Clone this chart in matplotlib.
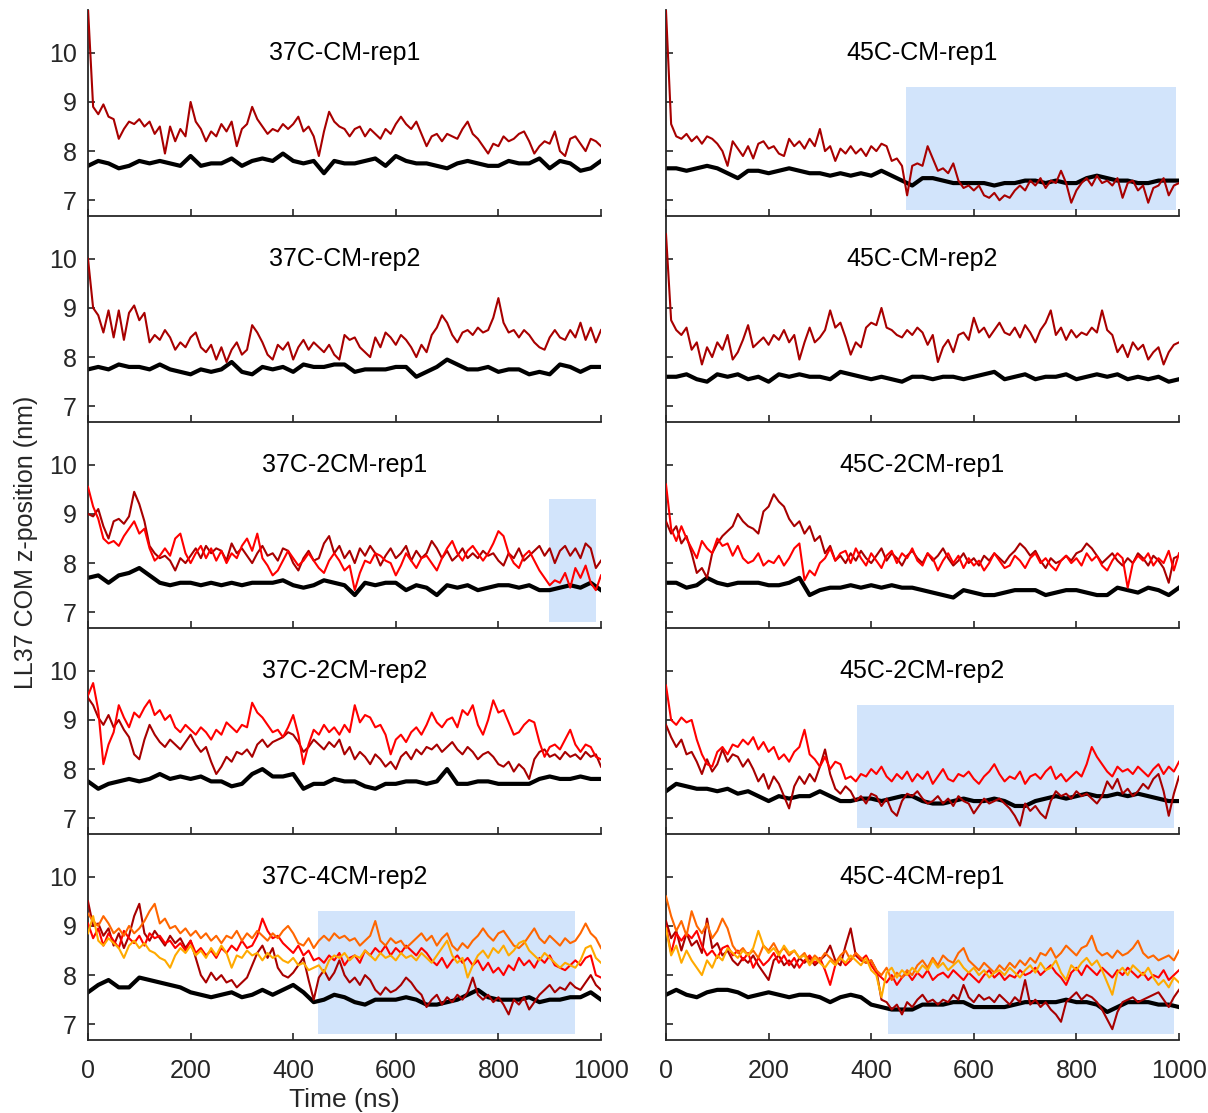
import numpy as np
import matplotlib
matplotlib.use("Agg")
import matplotlib.pyplot as plt

plt.rcParams['font.family'] = ['Liberation Sans', 'DejaVu Sans']

# ---- data (nm); colored traces every 10 ns, black every 20 ns ----

c37_cm1_dark = [10.9, 8.9, 8.75, 8.95, 8.7, 8.65, 8.25, 8.45, 8.6, 8.55,
                8.65, 8.5, 8.6, 8.35, 8.5, 7.95, 8.5, 8.2, 8.45, 8.3,
                9.0, 8.6, 8.45, 8.2, 8.4, 8.3, 8.55, 8.4, 8.6, 8.1,
                8.45, 8.55, 8.9, 8.65, 8.5, 8.35, 8.45, 8.4, 8.55, 8.45,
                8.55, 8.7, 8.4, 8.5, 8.3, 7.9, 8.4, 8.8, 8.6, 8.5,
                8.45, 8.3, 8.45, 8.5, 8.3, 8.45, 8.35, 8.25, 8.45, 8.35,
                8.55, 8.7, 8.55, 8.45, 8.6, 8.35, 8.1, 8.3, 8.35, 8.2,
                8.35, 8.3, 8.25, 8.45, 8.6, 8.35, 8.25, 8.1, 7.95, 8.15,
                8.1, 8.3, 8.2, 8.25, 8.35, 8.4, 8.2, 7.95, 8.1, 8.2,
                8.15, 8.4, 8.0, 7.9, 8.25, 8.3, 8.15, 8.0, 8.25, 8.2,
                8.1]
c37_cm1_black = [7.7, 7.8, 7.75, 7.65, 7.7, 7.8, 7.75, 7.8, 7.75, 7.7,
                 7.9, 7.7, 7.75, 7.75, 7.85, 7.7, 7.8, 7.85, 7.8, 7.95,
                 7.8, 7.75, 7.8, 7.55, 7.8, 7.75, 7.75, 7.8, 7.85, 7.7,
                 7.9, 7.8, 7.75, 7.75, 7.7, 7.65, 7.75, 7.8, 7.75, 7.7,
                 7.7, 7.8, 7.75, 7.75, 7.85, 7.65, 7.8, 7.75, 7.6, 7.65,
                 7.8]

c37_cm2_dark = [10.0, 9.0, 8.85, 8.5, 8.95, 8.4, 8.95, 8.35, 8.9, 9.05,
                8.75, 8.9, 8.3, 8.45, 8.35, 8.55, 8.4, 8.15, 8.3, 8.2,
                8.4, 8.5, 8.2, 8.1, 8.25, 7.95, 8.2, 7.9, 8.15, 8.3,
                8.05, 8.15, 8.65, 8.5, 8.3, 8.05, 7.95, 8.25, 8.15, 8.3,
                7.95, 8.2, 8.35, 8.15, 8.3, 8.2, 8.1, 8.25, 8.05, 7.95,
                8.45, 8.35, 8.4, 8.2, 8.1, 8.0, 8.4, 8.2, 8.5, 8.4,
                8.25, 8.45, 8.35, 8.2, 8.0, 8.25, 8.1, 8.45, 8.6, 8.85,
                8.7, 8.45, 8.3, 8.5, 8.55, 8.45, 8.6, 8.5, 8.55, 8.8,
                9.2, 8.7, 8.5, 8.55, 8.4, 8.55, 8.45, 8.3, 8.2, 8.15,
                8.4, 8.55, 8.4, 8.35, 8.55, 8.4, 8.7, 8.35, 8.6, 8.3,
                8.55]
c37_cm2_black = [7.75, 7.8, 7.75, 7.85, 7.8, 7.8, 7.75, 7.85, 7.75, 7.7,
                 7.65, 7.75, 7.7, 7.75, 7.9, 7.7, 7.65, 7.8, 7.75, 7.8,
                 7.7, 7.85, 7.8, 7.8, 7.85, 7.85, 7.7, 7.75, 7.75, 7.75,
                 7.8, 7.8, 7.6, 7.7, 7.8, 7.95, 7.85, 7.75, 7.75, 7.8,
                 7.7, 7.75, 7.75, 7.65, 7.7, 7.65, 7.85, 7.8, 7.7, 7.8,
                 7.8]

c37_2cm1_dark = [9.0, 8.95, 9.1, 8.75, 8.5, 8.85, 8.9, 8.8, 8.95, 9.45,
                 9.2, 8.85, 8.35, 8.2, 8.1, 8.15, 8.05, 7.85, 8.1, 8.0,
                 8.15, 8.3, 8.1, 8.35, 8.2, 8.3, 8.25, 8.05, 8.4, 8.2,
                 8.3, 8.15, 8.0, 8.2, 8.35, 8.15, 8.2, 8.05, 8.3, 8.25,
                 8.0, 7.85, 8.1, 8.25, 8.05, 8.1, 8.4, 8.55, 8.2, 8.35,
                 8.1, 8.25, 8.0, 8.3, 8.15, 8.35, 8.2, 7.95, 8.15, 8.3,
                 8.1, 8.2, 8.35, 8.05, 8.25, 8.1, 8.2, 8.45, 8.3, 8.1,
                 8.25, 8.05, 8.15, 8.3, 8.1, 8.2, 8.1, 8.25, 8.15, 8.2,
                 8.05, 7.95, 8.2, 8.1, 8.3, 8.05, 8.15, 8.25, 8.35, 8.15,
                 8.3, 8.0, 8.25, 8.35, 8.15, 8.3, 8.1, 8.4, 8.3, 7.9,
                 8.05]
c37_2cm1_red = [9.55, 9.15, 8.9, 8.5, 8.4, 8.45, 8.35, 8.55, 8.7, 8.85,
                8.6, 8.7, 8.3, 8.05, 8.15, 8.3, 8.15, 8.5, 8.6, 8.2,
                8.0, 8.2, 8.35, 8.1, 8.3, 8.05, 8.25, 8.0, 8.2, 8.1,
                8.35, 8.5, 8.25, 8.6, 8.1, 7.95, 7.75, 7.85, 8.05, 8.25,
                8.1, 7.95, 8.05, 8.2, 8.05, 7.9, 7.8, 8.05, 8.2, 8.05,
                7.85, 7.95, 7.45, 7.8, 8.05, 8.0, 8.2, 8.15, 8.05, 8.0,
                7.75, 7.95, 8.2, 8.05, 7.9, 8.1, 8.15, 8.0, 7.85, 8.1,
                8.3, 8.45, 8.2, 8.05, 8.25, 8.35, 8.2, 8.05, 8.2, 8.4,
                8.65, 8.55, 8.2, 8.0, 7.9, 8.15, 8.25, 8.05, 7.85, 7.7,
                7.55, 7.65, 7.6, 7.8, 7.5, 7.9, 7.7, 7.95, 7.6, 7.45,
                7.75]
c37_2cm1_black = [7.7, 7.75, 7.6, 7.75, 7.8, 7.9, 7.75, 7.6, 7.55, 7.6,
                  7.6, 7.55, 7.6, 7.55, 7.6, 7.55, 7.6, 7.6, 7.6, 7.65,
                  7.55, 7.5, 7.55, 7.65, 7.6, 7.55, 7.35, 7.6, 7.55, 7.6,
                  7.6, 7.45, 7.55, 7.5, 7.35, 7.55, 7.5, 7.55, 7.45, 7.5,
                  7.55, 7.55, 7.5, 7.55, 7.45, 7.45, 7.5, 7.55, 7.5, 7.6,
                  7.45]

c37_2cm2_dark = [9.45, 9.3, 9.05, 8.9, 9.1, 8.85, 9.0, 8.8, 8.65, 8.3,
                 8.2, 8.6, 8.9, 8.7, 8.55, 8.45, 8.6, 8.5, 8.4, 8.55,
                 8.7, 8.5, 8.35, 8.45, 8.15, 7.9, 8.05, 8.25, 8.15, 8.35,
                 8.3, 8.4, 8.25, 8.5, 8.6, 8.45, 8.55, 8.6, 8.65, 8.75,
                 8.7, 8.55, 8.35, 8.45, 8.6, 8.5, 8.4, 8.55, 8.45, 8.6,
                 8.3, 8.45, 8.2, 8.35, 8.25, 8.1, 8.3, 8.2, 8.05, 8.15,
                 8.0, 8.25, 8.35, 8.2, 8.4, 8.3, 8.45, 8.4, 8.5, 8.35,
                 8.45, 8.55, 8.4, 8.3, 8.45, 8.35, 8.2, 8.3, 8.35, 8.25,
                 8.1, 8.05, 8.15, 7.95, 8.1, 8.0, 7.8, 8.2, 8.35, 8.4,
                 8.25, 8.3, 8.2, 8.35, 8.25, 8.3, 8.2, 8.35, 8.25, 8.3,
                 8.05]
c37_2cm2_red = [9.5, 9.75, 9.2, 8.1, 8.5, 8.75, 9.3, 9.05, 8.85, 9.15,
                9.05, 9.25, 9.4, 9.1, 9.2, 9.0, 9.1, 8.85, 8.75, 8.9,
                8.8, 8.7, 8.85, 8.75, 8.6, 8.8, 8.7, 8.95, 8.85, 8.75,
                8.9, 8.85, 9.35, 9.15, 9.05, 8.9, 8.75, 8.8, 8.65, 8.85,
                9.1, 8.7, 8.1, 8.5, 8.8, 8.7, 8.9, 8.75, 8.85, 8.7,
                8.9, 8.75, 9.3, 8.95, 9.1, 9.05, 8.85, 8.9, 8.7, 8.3,
                8.6, 8.7, 8.55, 8.75, 8.85, 8.7, 8.9, 9.15, 8.95, 8.85,
                9.0, 9.05, 8.85, 9.2, 9.1, 9.3, 8.9, 8.7, 9.0, 9.4,
                9.15, 9.2, 8.95, 8.7, 8.75, 8.9, 9.0, 8.95, 8.55, 8.25,
                8.45, 8.5, 8.4, 8.6, 8.8, 8.5, 8.35, 8.5, 8.45, 8.25,
                8.2]
c37_2cm2_black = [7.75, 7.6, 7.7, 7.75, 7.8, 7.75, 7.8, 7.9, 7.8, 7.85,
                  7.8, 7.85, 7.75, 7.75, 7.65, 7.7, 7.9, 8.0, 7.85, 7.85,
                  7.9, 7.6, 7.7, 7.7, 7.8, 7.75, 7.75, 7.65, 7.6, 7.7,
                  7.7, 7.75, 7.75, 7.7, 7.75, 8.0, 7.7, 7.7, 7.75, 7.75,
                  7.7, 7.7, 7.7, 7.7, 7.8, 7.85, 7.8, 7.8, 7.85, 7.8,
                  7.8]

c37_4cm2_dark = [9.5, 9.0, 9.05, 8.8, 8.95, 8.6, 8.85, 8.55, 8.8, 9.2,
                 9.45, 8.85, 8.7, 8.9, 8.75, 8.6, 8.8, 8.65, 8.75, 8.55,
                 8.7, 8.35, 8.0, 7.85, 8.05, 7.9, 8.0, 7.85, 7.9, 7.75,
                 7.85, 7.95, 8.2, 8.45, 8.6, 8.35, 8.55, 8.15, 8.0, 7.95,
                 8.05, 8.2, 8.35, 7.9, 7.5, 7.95, 8.1, 7.9, 8.05, 8.3,
                 8.0, 7.85, 7.95, 7.8, 8.0, 7.9, 7.7, 7.6, 7.75, 7.65,
                 7.7, 7.8, 7.95, 7.85, 7.7, 7.6, 7.35, 7.5, 7.6, 7.4,
                 7.55, 7.45, 7.6, 7.5, 7.65, 7.95, 7.6, 7.5, 7.6, 7.45,
                 7.55, 7.4, 7.2, 7.5, 7.4, 7.55, 7.3, 7.45, 7.6, 7.7,
                 7.8, 7.65, 7.75, 7.7, 7.85, 7.75, 7.7, 7.85, 8.0, 7.8,
                 7.7]
c37_4cm2_red = [9.05, 8.75, 8.95, 8.6, 8.85, 8.7, 8.55, 8.9, 8.75, 8.65,
                8.8, 8.6, 8.85, 8.75, 8.8, 8.65, 8.7, 8.55, 8.65, 8.5,
                8.7, 8.45, 8.55, 8.4, 8.5, 8.35, 8.55, 8.45, 8.6, 8.5,
                8.7, 8.55, 8.6, 8.8, 9.15, 8.9, 8.75, 8.8, 8.65, 8.55,
                8.45, 8.6, 8.4, 8.5, 8.3, 8.35, 8.25, 8.4, 8.3, 8.45,
                8.2, 8.35, 8.4, 8.25, 8.5, 8.4, 8.55, 8.45, 8.6, 8.4,
                8.55, 8.45, 8.6, 8.5, 8.4, 8.55, 8.45, 8.3, 8.2, 8.35,
                8.15, 8.3, 8.4, 8.25, 8.35, 8.2, 8.3, 8.1, 8.25, 8.05,
                8.15, 8.0, 8.2, 8.1, 8.35, 8.2, 8.3, 8.15, 8.35, 8.25,
                8.4, 8.2, 8.15, 8.1, 8.2, 8.3, 8.2, 8.35, 8.4, 8.0,
                7.95]
c37_4cm2_orange = [9.25, 9.1, 9.0, 9.2, 9.05, 8.85, 8.95, 8.8, 9.0, 8.85,
                   8.95, 9.1, 9.3, 9.45, 9.05, 9.15, 8.95, 9.0, 8.85, 8.95,
                   8.8, 8.9, 8.75, 8.85, 8.7, 8.8, 8.65, 8.8, 8.75, 8.9,
                   8.7, 8.85, 8.75, 8.9, 8.8, 8.7, 8.85, 8.75, 8.9, 9.0,
                   8.85, 8.65, 8.6, 8.75, 8.55, 8.7, 8.8, 8.7, 8.85, 8.75,
                   8.8, 8.7, 8.75, 8.6, 8.7, 8.8, 9.1, 8.7, 8.6, 8.75,
                   8.65, 8.7, 8.55, 8.65, 8.75, 8.85, 8.7, 8.8, 8.6, 8.75,
                   8.85, 8.6, 8.5, 8.65, 8.55, 8.7, 8.8, 8.95, 8.8, 8.7,
                   8.85, 8.9, 8.75, 8.6, 8.55, 8.65, 8.8, 8.95, 8.75, 8.65,
                   8.8, 8.7, 8.6, 8.75, 8.65, 8.7, 8.85, 9.05, 8.85, 8.75,
                   8.55]
c37_4cm2_gold = [8.85, 9.2, 8.7, 8.6, 8.75, 8.65, 8.55, 8.35, 8.6, 8.7,
                 8.55, 8.65, 8.5, 8.45, 8.35, 8.3, 8.15, 8.4, 8.55, 8.45,
                 8.6, 8.4, 8.5, 8.35, 8.55, 8.4, 8.6, 8.45, 8.15, 8.4,
                 8.35, 8.5, 8.4, 8.45, 8.3, 8.45, 8.35, 8.4, 8.3, 8.25,
                 8.35, 8.2, 8.25, 8.1, 8.15, 8.2, 8.05, 8.3, 8.4, 8.35,
                 8.45, 8.3, 8.4, 8.35, 8.5, 8.4, 8.3, 8.45, 8.35, 8.4,
                 8.3, 8.45, 8.35, 8.4, 8.3, 8.45, 8.35, 8.25, 8.4, 8.55,
                 8.7, 8.4, 8.25, 8.35, 7.95, 8.2, 8.4, 8.5, 8.35, 8.55,
                 8.45, 8.6, 8.4, 8.5, 8.65, 8.7, 8.5, 8.4, 8.3, 8.45,
                 8.35, 8.25, 8.15, 8.25, 8.2, 8.15, 8.3, 8.55, 8.6, 8.35,
                 8.25]
c37_4cm2_black = [7.65, 7.8, 7.9, 7.75, 7.75, 7.95, 7.9, 7.85, 7.8, 7.75,
                  7.65, 7.6, 7.55, 7.6, 7.65, 7.55, 7.6, 7.7, 7.6, 7.7,
                  7.8, 7.65, 7.45, 7.5, 7.6, 7.55, 7.45, 7.4, 7.5, 7.5,
                  7.5, 7.55, 7.5, 7.4, 7.4, 7.45, 7.5, 7.6, 7.7, 7.55,
                  7.5, 7.5, 7.5, 7.55, 7.45, 7.5, 7.5, 7.55, 7.55, 7.65,
                  7.5]

c45_cm1_dark = [10.85, 8.55, 8.3, 8.25, 8.35, 8.2, 8.3, 8.15, 8.3, 8.25,
                8.15, 8.0, 7.7, 8.2, 8.05, 7.9, 8.1, 7.85, 8.15, 8.2,
                8.05, 8.1, 7.95, 7.9, 8.25, 8.1, 8.2, 8.05, 8.25, 8.1,
                8.45, 8.0, 8.1, 7.8, 8.05, 7.95, 8.1, 7.95, 8.05, 7.9,
                8.1, 8.0, 8.15, 8.1, 7.8, 7.85, 7.7, 7.1, 7.7, 7.75,
                7.7, 8.1, 7.85, 7.6, 7.65, 7.55, 7.75, 7.4, 7.25, 7.3,
                7.2, 7.3, 7.1, 7.05, 7.15, 7.0, 7.1, 7.05, 7.2, 7.3,
                7.2, 7.4, 7.3, 7.45, 7.25, 7.4, 7.35, 7.6, 7.35, 6.95,
                7.2, 7.35, 7.45, 7.3, 7.5, 7.35, 7.4, 7.3, 7.45, 7.05,
                7.35, 7.4, 7.2, 7.3, 6.95, 7.25, 7.3, 7.45, 7.1, 7.3,
                7.35]
c45_cm1_black = [7.65, 7.65, 7.6, 7.65, 7.7, 7.65, 7.55, 7.45, 7.6, 7.6,
                 7.55, 7.6, 7.65, 7.6, 7.55, 7.55, 7.5, 7.55, 7.5, 7.55,
                 7.5, 7.6, 7.5, 7.4, 7.3, 7.45, 7.45, 7.4, 7.35, 7.35,
                 7.35, 7.35, 7.3, 7.35, 7.35, 7.4, 7.4, 7.35, 7.4, 7.35,
                 7.35, 7.45, 7.5, 7.45, 7.4, 7.4, 7.35, 7.35, 7.4, 7.4,
                 7.4]

c45_cm2_dark = [10.5, 8.75, 8.55, 8.45, 8.6, 8.15, 8.3, 7.85, 8.2, 8.0,
                8.3, 8.15, 8.45, 7.95, 8.1, 8.35, 8.65, 8.2, 8.3, 8.4,
                8.25, 8.45, 8.35, 8.55, 8.3, 8.45, 7.95, 8.3, 8.6, 8.3,
                8.4, 8.55, 8.95, 8.6, 8.7, 8.4, 8.05, 8.3, 8.2, 8.6,
                8.7, 8.65, 9.0, 8.6, 8.55, 8.45, 8.4, 8.55, 8.45, 8.6,
                8.5, 8.25, 8.45, 7.9, 8.2, 8.35, 8.1, 8.45, 8.5, 8.35,
                8.8, 8.5, 8.6, 8.4, 8.55, 8.7, 8.5, 8.45, 8.6, 8.4,
                8.65, 8.5, 8.3, 8.55, 8.7, 8.95, 8.45, 8.6, 8.35, 8.55,
                8.4, 8.5, 8.45, 8.6, 8.5, 8.95, 8.55, 8.45, 8.1, 8.25,
                8.0, 8.3, 8.15, 8.25, 7.95, 8.1, 8.2, 7.85, 8.1, 8.25,
                8.3]
c45_cm2_black = [7.6, 7.6, 7.65, 7.55, 7.5, 7.65, 7.6, 7.65, 7.55, 7.6,
                 7.5, 7.65, 7.6, 7.65, 7.6, 7.6, 7.55, 7.7, 7.65, 7.6,
                 7.55, 7.6, 7.55, 7.5, 7.6, 7.6, 7.55, 7.6, 7.6, 7.55,
                 7.6, 7.65, 7.7, 7.55, 7.6, 7.65, 7.55, 7.6, 7.6, 7.65,
                 7.55, 7.6, 7.65, 7.6, 7.65, 7.55, 7.6, 7.55, 7.6, 7.5,
                 7.55]

c45_2cm1_dark = [8.85, 8.6, 8.75, 8.4, 8.55, 8.2, 7.8, 7.9, 7.7, 8.2,
                 8.4, 8.55, 8.65, 8.75, 9.0, 8.85, 8.75, 8.7, 8.6, 9.05,
                 9.15, 9.4, 9.25, 9.15, 8.9, 8.75, 8.85, 8.6, 8.75, 8.45,
                 8.55, 8.2, 8.35, 8.05, 8.15, 8.0, 8.2, 8.05, 8.25, 8.1,
                 8.0, 8.15, 8.3, 8.05, 8.2, 8.1, 7.95, 8.15, 8.25, 8.1,
                 8.0, 8.2, 8.05, 8.15, 8.3, 8.1, 7.95, 8.05, 8.2, 8.0,
                 8.1, 7.95, 8.15, 8.05, 8.2, 8.1, 8.0, 8.15, 8.25, 8.4,
                 8.3, 8.15, 8.25, 8.05, 7.9, 8.1, 8.0, 8.05, 8.15, 8.05,
                 8.2, 8.25, 8.4, 8.3, 8.15, 8.0, 8.1, 8.2, 8.05, 7.95,
                 8.1, 8.0, 8.2, 8.1, 7.95, 8.15, 8.05, 7.9, 7.6, 8.1,
                 8.15]
c45_2cm1_red = [9.6, 8.7, 8.45, 8.75, 8.5, 8.3, 8.1, 8.45, 8.3, 8.2,
                8.5, 8.35, 8.4, 8.15, 8.35, 8.1, 8.0, 8.05, 8.2, 7.95,
                8.05, 8.0, 8.15, 7.95, 8.1, 8.3, 8.4, 7.65, 7.85, 7.75,
                8.0, 8.1, 8.3, 8.05, 8.2, 8.25, 8.0, 8.3, 8.1, 7.95,
                8.2, 8.05, 7.9, 8.15, 8.25, 8.0, 8.2, 8.1, 8.3, 8.05,
                7.95, 8.2, 8.1, 7.85, 8.05, 8.2, 8.0, 8.15, 7.9, 8.1,
                7.95, 8.05, 7.85, 8.0, 8.2, 8.05, 7.9, 7.95, 8.15, 8.05,
                7.9, 8.1, 8.2, 8.0, 8.1, 7.95, 7.85, 8.05, 8.15, 8.0,
                8.1, 7.95, 8.2, 8.05, 8.15, 7.95, 7.85, 8.05, 8.2, 8.1,
                7.5, 8.0, 8.15, 8.05, 8.2, 7.95, 8.1, 8.0, 8.25, 7.85,
                8.2]
c45_2cm1_black = [7.6, 7.6, 7.5, 7.55, 7.7, 7.6, 7.55, 7.6, 7.6, 7.6,
                  7.55, 7.55, 7.6, 7.7, 7.35, 7.45, 7.5, 7.5, 7.55, 7.5,
                  7.55, 7.5, 7.55, 7.5, 7.5, 7.45, 7.4, 7.35, 7.3, 7.45,
                  7.4, 7.35, 7.35, 7.4, 7.45, 7.45, 7.45, 7.35, 7.4, 7.45,
                  7.45, 7.4, 7.35, 7.35, 7.5, 7.45, 7.4, 7.5, 7.45, 7.35,
                  7.5]

c45_2cm2_dark = [8.9, 8.65, 8.45, 8.6, 8.3, 8.35, 8.15, 7.9, 8.2, 7.95,
                 8.1, 8.4, 8.15, 8.3, 8.25, 8.05, 8.2, 8.0, 7.75, 7.9,
                 7.6, 7.85, 7.7, 7.45, 7.2, 7.65, 7.85, 7.7, 7.9, 7.75,
                 8.05, 8.4, 7.9, 7.6, 7.5, 7.65, 7.55, 7.35, 7.45, 7.3,
                 7.5, 7.45, 7.25, 7.4, 7.15, 7.05, 7.35, 7.5, 7.45, 7.55,
                 7.4, 7.3, 7.35, 7.45, 7.3, 7.4, 7.25, 7.45, 7.35, 7.3,
                 7.1, 7.25, 7.4, 7.3, 7.35, 7.4, 7.3, 7.2, 7.05, 6.85,
                 7.3, 7.15, 7.25, 7.1, 7.0, 7.35, 7.55, 7.45, 7.5, 7.4,
                 7.55, 7.45, 7.5, 7.4, 7.3, 7.45, 7.75, 7.6, 7.8, 7.5,
                 7.6, 7.45, 7.55, 7.7, 7.6, 7.8, 7.9, 7.55, 7.05, 7.5,
                 7.85]
c45_2cm2_red = [9.7, 9.0, 8.9, 9.05, 8.95, 9.0, 8.6, 8.3, 8.1, 8.05,
                8.35, 8.45, 8.3, 8.5, 8.45, 8.6, 8.5, 8.65, 8.4, 8.55,
                8.35, 8.45, 8.2, 8.3, 8.15, 8.35, 8.45, 8.8, 8.3, 8.2,
                8.05, 8.25, 8.0, 8.15, 8.1, 7.8, 7.85, 7.75, 7.9, 7.85,
                8.0, 7.9, 8.05, 7.85, 7.75, 7.9, 7.8, 7.95, 7.75, 7.9,
                7.8, 7.95, 7.7, 7.85, 8.0, 7.8, 7.75, 7.9, 7.85, 7.95,
                7.8, 7.7, 7.85, 7.95, 8.1, 7.9, 7.75, 7.85, 7.8, 7.95,
                7.7, 7.85, 7.9, 7.8, 7.95, 8.05, 7.8, 7.9, 7.75, 7.85,
                7.95, 7.85, 8.1, 8.45, 8.25, 8.1, 7.95, 7.85, 8.05, 7.95,
                8.0, 7.9, 8.05, 7.95, 7.85, 8.0, 8.1, 7.9, 8.05, 7.95,
                8.15]
c45_2cm2_black = [7.55, 7.7, 7.65, 7.6, 7.6, 7.55, 7.6, 7.5, 7.55, 7.45,
                  7.35, 7.45, 7.4, 7.45, 7.45, 7.55, 7.45, 7.35, 7.35, 7.4,
                  7.4, 7.35, 7.4, 7.45, 7.45, 7.35, 7.3, 7.3, 7.35, 7.4,
                  7.35, 7.35, 7.4, 7.35, 7.25, 7.25, 7.35, 7.4, 7.45, 7.4,
                  7.45, 7.5, 7.45, 7.45, 7.5, 7.45, 7.5, 7.45, 7.4, 7.35,
                  7.35]

c45_4cm1_dark = [9.1, 8.75, 8.9, 8.5, 8.85, 8.6, 8.7, 8.45, 9.15, 8.55,
                 8.65, 8.4, 8.5, 8.3, 8.2, 8.35, 8.25, 8.4, 8.2, 8.05,
                 7.9, 8.3, 8.4, 8.2, 8.3, 8.15, 8.35, 8.25, 8.35, 8.2,
                 8.3, 8.4, 8.6, 8.3, 8.2, 8.6, 8.95, 8.4, 8.3, 8.25,
                 8.3, 8.1, 7.5, 7.45, 7.3, 7.4, 7.2, 7.45, 7.35, 7.5,
                 7.6, 7.45, 7.5, 7.4, 7.5, 7.45, 7.6, 7.5, 7.8, 7.55,
                 7.45, 7.6, 7.5, 7.55, 7.45, 7.6, 7.5, 7.4, 7.55, 7.45,
                 7.9, 7.4, 7.5, 7.35, 7.45, 7.3, 7.2, 7.05, 7.45, 7.55,
                 7.65, 7.5, 7.6, 7.55, 7.45, 7.3, 7.1, 6.9, 7.25, 7.45,
                 7.5, 7.55, 7.45, 7.5, 7.55, 7.6, 7.65, 7.5, 7.35, 7.55,
                 7.7]
c45_4cm1_red = [9.0, 8.45, 8.85, 8.7, 8.85, 8.75, 8.9, 8.6, 8.4, 8.5,
                8.35, 8.55, 8.6, 8.4, 8.5, 8.3, 8.45, 8.15, 8.35, 8.2,
                8.3, 8.45, 8.25, 8.4, 8.2, 8.35, 8.15, 8.3, 8.4, 8.25,
                8.35, 8.1, 7.8, 8.2, 8.35, 8.2, 8.3, 8.45, 8.3, 8.4,
                8.2, 8.05, 7.95, 7.85, 8.0, 7.8, 7.95, 8.05, 7.9, 8.05,
                7.95, 8.1, 7.9, 8.0, 8.05, 7.95, 8.1, 8.0, 7.9, 8.05,
                7.95, 7.85, 8.0, 8.1, 7.95, 8.05, 7.9, 8.0, 7.95, 8.1,
                8.0, 8.05, 8.15, 8.0, 8.1, 8.2, 8.05, 7.95, 7.8, 8.05,
                8.15, 8.0, 8.2, 8.1, 8.0, 8.15, 8.05, 7.95, 8.1, 8.0,
                8.15, 8.05, 7.95, 8.05, 7.9, 8.0, 7.95, 8.1, 7.9, 8.0,
                8.1]
c45_4cm1_orange = [9.6, 9.2, 8.9, 9.1, 8.8, 9.3, 9.0, 8.85, 9.05, 8.75,
                   8.9, 9.15, 8.95, 8.6, 8.45, 8.55, 8.4, 8.5, 8.35, 8.6,
                   8.5, 8.65, 8.45, 8.55, 8.4, 8.5, 8.35, 8.45, 8.25, 8.4,
                   8.3, 8.45, 8.35, 8.25, 8.4, 8.5, 8.3, 8.45, 8.35, 8.25,
                   8.3, 8.1, 8.0, 8.15, 7.9, 8.05, 7.95, 8.1, 8.0, 8.2,
                   8.3, 8.15, 8.35, 8.2, 8.4, 8.3, 8.25, 8.45, 8.55, 8.3,
                   8.2, 8.1, 8.25, 8.15, 8.05, 8.2, 8.1, 8.25, 8.15, 8.3,
                   8.2, 8.35, 8.25, 8.45, 8.4, 8.55, 8.35, 8.45, 8.6, 8.5,
                   8.4, 8.55, 8.6, 8.8, 8.5, 8.4, 8.45, 8.35, 8.5, 8.4,
                   8.45, 8.55, 8.7, 8.45, 8.35, 8.4, 8.3, 8.35, 8.4, 8.3,
                   8.5]
c45_4cm1_gold = [8.95, 8.4, 8.6, 8.25, 8.5, 8.3, 8.15, 8.0, 8.3, 8.15,
                 8.4, 8.3, 8.55, 8.45, 8.35, 8.5, 8.4, 8.55, 8.9, 8.6,
                 8.45, 8.55, 8.4, 8.6, 8.45, 8.5, 8.35, 8.4, 8.2, 8.35,
                 8.25, 8.15, 8.3, 8.2, 8.35, 8.25, 8.4, 8.3, 8.2, 8.35,
                 8.1, 8.0, 7.55, 8.05, 8.15, 7.95, 8.1, 8.0, 8.15, 8.05,
                 8.2, 8.1, 8.3, 8.15, 8.25, 8.1, 8.2, 8.3, 8.15, 8.05,
                 8.15, 8.0, 8.1, 7.95, 8.05, 8.1, 8.0, 8.15, 8.05, 7.95,
                 8.1, 8.2, 8.05, 8.25, 8.1, 8.15, 8.3, 8.05, 7.9, 8.2,
                 8.1, 8.25, 8.35, 8.2, 8.3, 8.1, 7.85, 7.6, 8.05, 8.15,
                 8.0, 8.2, 8.1, 8.0, 8.15, 7.95, 7.8, 7.9, 7.75, 7.95,
                 7.85]
c45_4cm1_black = [7.6, 7.7, 7.6, 7.55, 7.65, 7.7, 7.7, 7.65, 7.55, 7.6,
                  7.65, 7.6, 7.55, 7.6, 7.6, 7.55, 7.45, 7.55, 7.6, 7.55,
                  7.4, 7.35, 7.3, 7.3, 7.3, 7.4, 7.4, 7.4, 7.45, 7.45,
                  7.35, 7.35, 7.35, 7.35, 7.4, 7.45, 7.45, 7.45, 7.45, 7.5,
                  7.45, 7.45, 7.4, 7.25, 7.35, 7.45, 7.45, 7.45, 7.4, 7.4,
                  7.35]

titles = ["37C-CM-rep1", "45C-CM-rep1", "37C-CM-rep2", "45C-CM-rep2",
          "37C-2CM-rep1", "45C-2CM-rep1", "37C-2CM-rep2", "45C-2CM-rep2",
          "37C-4CM-rep2", "45C-4CM-rep1"]
# shaded windows (ns), None where there is none
windows = [None, (467, 995), None, None, (898, 990), None,
           None, (373, 990), (448, 950), (432, 990)]
shade_y = (6.8, 9.3)

DARK, RED, ORANGE, GOLD = '#a80000', '#ff0000', '#ff6600', '#ffaa00'

panel_traces = [
    [(c37_cm1_black, 'k'), (c37_cm1_dark, DARK)],
    [(c45_cm1_black, 'k'), (c45_cm1_dark, DARK)],
    [(c37_cm2_black, 'k'), (c37_cm2_dark, DARK)],
    [(c45_cm2_black, 'k'), (c45_cm2_dark, DARK)],
    [(c37_2cm1_black, 'k'), (c37_2cm1_dark, DARK), (c37_2cm1_red, RED)],
    [(c45_2cm1_black, 'k'), (c45_2cm1_dark, DARK), (c45_2cm1_red, RED)],
    [(c37_2cm2_black, 'k'), (c37_2cm2_dark, DARK), (c37_2cm2_red, RED)],
    [(c45_2cm2_black, 'k'), (c45_2cm2_dark, DARK), (c45_2cm2_red, RED)],
    [(c37_4cm2_black, 'k'), (c37_4cm2_dark, DARK), (c37_4cm2_red, RED),
     (c37_4cm2_orange, ORANGE), (c37_4cm2_gold, GOLD)],
    [(c45_4cm1_black, 'k'), (c45_4cm1_dark, DARK), (c45_4cm1_red, RED),
     (c45_4cm1_orange, ORANGE), (c45_4cm1_gold, GOLD)],
]

fig = plt.figure(figsize=(12.08, 11.13), dpi=100)

axcol = '#262626'
lefts = [88 / 1208, 666 / 1208]
width = 513 / 1208
height = 206 / 1113
bottom0 = 73 / 1113

for i, title in enumerate(titles):
    row, col = i // 2, i % 2
    ax = fig.add_axes([lefts[col], bottom0 + (4 - row) * height, width, height])
    ax.patch.set_alpha(0)

    if windows[i] is not None:
        x0, x1 = windows[i]
        ax.fill_between([x0, x1], shade_y[0], shade_y[1], color='#d2e4fb',
                        lw=0, zorder=0)

    for vals, colr in panel_traces[i]:
        t = np.linspace(0, 1000, len(vals))
        if colr == 'k':
            ax.plot(t, vals, color='k', lw=3.0, zorder=2)
        else:
            ax.plot(t, vals, color=colr, lw=1.5, zorder=3)

    ax.set_xlim(0, 1000)
    ax.set_ylim(6.68, 10.87)
    ax.set_xticks([0, 200, 400, 600, 800, 1000])
    ax.set_yticks([7, 8, 9, 10])
    for s in ['top', 'right']:
        ax.spines[s].set_visible(False)
    for s in ['left', 'bottom']:
        ax.spines[s].set_linewidth(1.3)
        ax.spines[s].set_color(axcol)
    ax.tick_params(direction='in', length=5, width=1.2, colors=axcol,
                   labelsize=18, labelbottom=(row == 4), labelleft=(col == 0))
    ax.tick_params(axis='x', pad=14)
    ax.tick_params(axis='y', pad=8)
    ax.text(500, 10.0, title, ha='center', va='center', fontsize=18,
            color='k')

fig.text(0.0215, 1 - 542 / 1113, 'LL37 COM z-position (nm)', rotation=90,
         ha='center', va='center', fontsize=18, color=axcol)
fig.text(344 / 1208, 1 - 1100 / 1113, 'Time (ns)', ha='center', va='center',
         fontsize=19, color=axcol)

fig.savefig('out.png', dpi=100)
